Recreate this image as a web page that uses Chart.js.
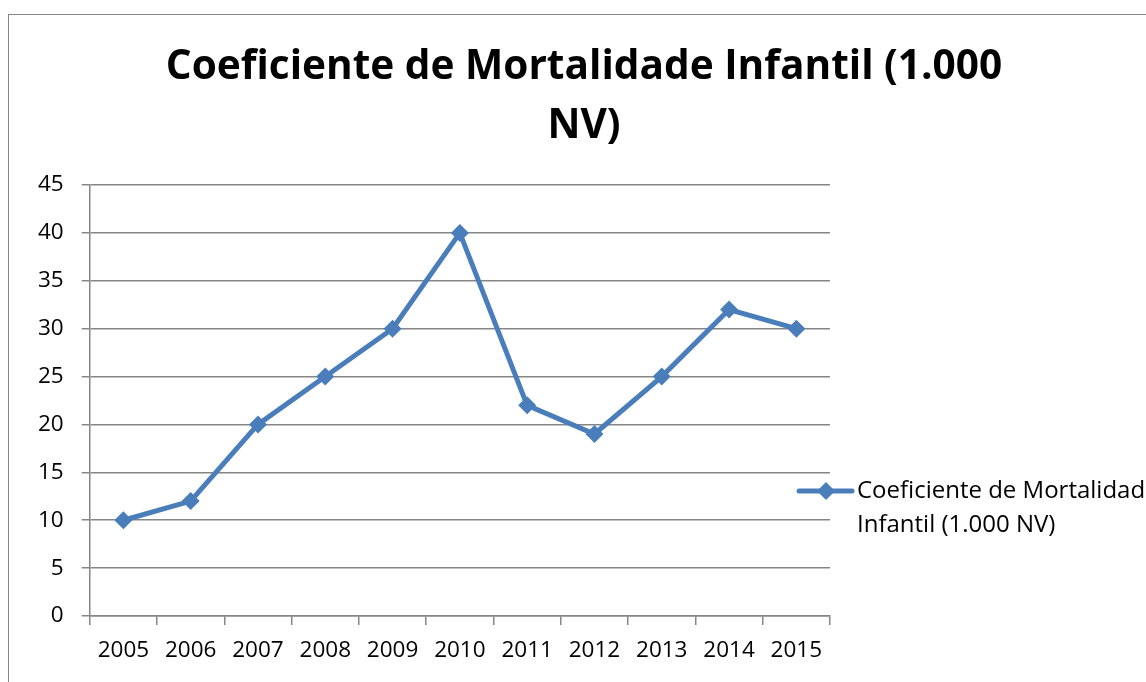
<!DOCTYPE html>
<html>
<head>
<meta charset="utf-8">
<script src="https://cdn.jsdelivr.net/npm/chart.js@4/dist/chart.umd.min.js"></script>
<style>
  html, body { margin: 0; padding: 0; background: #fff; overflow: hidden; width: 1146px; height: 682px; }
  #frame { position: absolute; left: 8px; top: 14px; width: 1180px; height: 720px; border: 1.5px solid #868686; box-sizing: border-box; }
  #wrap { position: absolute; left: 0; top: 0; width: 1170px; height: 682px; }
</style>
</head>
<body>
<div id="frame"></div>
<div id="wrap"><canvas id="c"></canvas></div>
<script>
const categories = ["2005", "2006", "2007", "2008", "2009", "2010", "2011", "2012", "2013", "2014", "2015"];
const seriesLabel = "Coeficiente de Mortalidade Infantil (1.000 NV)";
const seriesValues = [10, 12, 20, 25, 30, 40, 22, 19, 25, 32, 30];
const titleLines = ["Coeficiente de Mortalidade Infantil (1.000", "NV)"];
const legendLines = ["Coeficiente de Mortalidade", "Infantil (1.000 NV)"];
const yMin = 0, yMax = 45, yStep = 5;

const LINE_COLOR = "#4A7EBB";
const GRID_COLOR = "#868686";
const FONT = "'Open Sans', 'Liberation Sans', sans-serif";

const titlePlugin = {
  id: "centerTitle",
  afterDraw(chart) {
    const ctx = chart.ctx;
    ctx.save();
    ctx.fillStyle = "#000";
    ctx.font = "bold 40.6px " + FONT;
    ctx.textAlign = "center";
    ctx.textBaseline = "alphabetic";
    ctx.fillText(titleLines[0], 584, 79);
    ctx.fillText(titleLines[1], 584, 138);
    ctx.restore();
  }
};

const legendPlugin = {
  id: "sideLegend",
  afterDraw(chart) {
    const ctx = chart.ctx;
    const x0 = 799, y0 = 491;
    ctx.save();
    ctx.strokeStyle = LINE_COLOR;
    ctx.lineWidth = 5;
    ctx.lineCap = "round";
    ctx.beginPath();
    ctx.moveTo(x0, y0);
    ctx.lineTo(x0 + 53, y0);
    ctx.stroke();
    ctx.fillStyle = LINE_COLOR;
    const cx = x0 + 27, r = 9;
    ctx.beginPath();
    ctx.moveTo(cx, y0 - r); ctx.lineTo(cx + r, y0); ctx.lineTo(cx, y0 + r); ctx.lineTo(cx - r, y0); ctx.closePath();
    ctx.fill();
    ctx.fillStyle = "#000";
    ctx.font = "24px " + FONT;
    ctx.textBaseline = "middle";
    ctx.textAlign = "left";
    legendLines.forEach((t, i) => ctx.fillText(t, 857, y0 + i * 34));
    ctx.restore();
  }
};

new Chart(document.getElementById("c"), {
  type: "line",
  data: {
    labels: categories,
    datasets: [{
      label: seriesLabel,
      data: seriesValues,
      borderColor: LINE_COLOR,
      backgroundColor: LINE_COLOR,
      borderWidth: 5,
      pointStyle: "rectRot",
      pointRadius: 9,
      pointBorderWidth: 0,
      pointBackgroundColor: LINE_COLOR,
      tension: 0
    }]
  },
  options: {
    responsive: true,
    maintainAspectRatio: false,
    animation: false,
    layout: { padding: { left: 20, right: 340, top: 185, bottom: 6 } },
    plugins: {
      legend: { display: false },
      tooltip: { enabled: false },
      title: { display: false }
    },
    scales: {
      x: {
        offset: true,
        grid: { offset: true, drawOnChartArea: false, drawTicks: true, tickLength: 9, color: GRID_COLOR, lineWidth: 1.5 },
        border: { display: true, color: GRID_COLOR, width: 1.5 },
        ticks: { color: "#000", font: { family: FONT, size: 22.5 }, padding: 12, maxRotation: 0, autoSkip: false }
      },
      y: {
        min: yMin, max: yMax,
        grid: { color: GRID_COLOR, lineWidth: 1.5, drawTicks: true, tickLength: 8 },
        border: { display: true, color: GRID_COLOR, width: 1.5 },
        ticks: { stepSize: yStep, color: "#000", font: { family: FONT, size: 22.5 }, padding: 18 }
      }
    }
  },
  plugins: [titlePlugin, legendPlugin]
});
</script>
</body>
</html>
